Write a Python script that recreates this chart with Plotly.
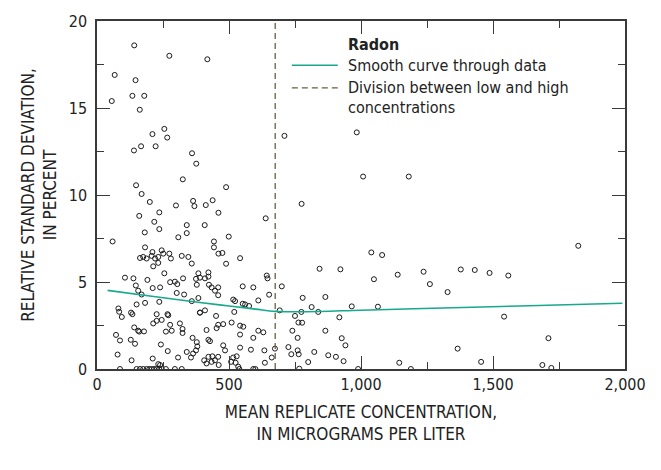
import plotly.graph_objects as go

# Replicate sample pairs: mean concentration (ug/L) and relative standard deviation (%)
conc = [
    141, 274, 418, 67, 146, 134, 179, 56, 162, 255, 210, 266, 710, 984,
    140, 167, 222, 360, 376, 1008, 1181, 325, 148, 169, 489, 200, 299, 364, 369,
    438, 412, 775, 236, 160, 460, 217, 639, 340, 408, 236, 340, 181, 308, 499,
    59, 443, 1823, 182, 443, 210, 245, 460, 475, 542, 1039, 1080,
    163, 175, 188, 207, 220, 232, 251, 274, 280, 321, 346, 359,
    213, 232, 255, 106, 138, 191, 277, 295, 304, 326, 375, 378,
    147, 156, 169, 182, 211, 239, 302, 330, 359, 390, 150, 236,
    81, 84, 94, 129, 134, 226, 267, 270, 245, 226, 213, 277, 314, 324, 283,
    324, 261, 178, 141, 160, 156,
    72, 87, 128, 144, 78, 131, 211, 242, 268, 307, 340, 356, 364, 375, 380, 378, 362,
    87, 150, 163, 175, 188, 198, 207, 216, 226, 236, 245, 261, 295, 321, 232, 239,
    489, 422, 384, 390, 409, 422, 643, 646, 700, 552, 592, 424, 434, 459, 447, 459,
    652, 611, 516, 523, 552, 561, 576, 384, 409, 390, 451, 520, 692, 750, 510, 478,
    459, 453, 415, 542, 554, 611, 630, 740, 542, 422, 428, 592, 478, 485, 542, 583,
    634, 674, 662, 636, 725, 736, 539, 592, 600,
    422, 437, 459, 406, 415, 434, 447, 461, 508, 516, 529, 525, 535,
    843, 922, 1049, 1139, 779, 865, 813, 965, 1064, 774, 838, 918, 763, 777, 865,
    760, 927, 941, 760, 764, 823, 876, 905, 934, 800, 1145, 766, 989, 1189,
    1237, 1261, 1378, 1431, 1487, 1558, 1328, 1542, 1710, 1366, 1455, 1687, 1721,
]
rsd = [
    18.6, 18.0, 17.8, 16.9, 16.6, 15.7, 15.7, 15.4, 14.9, 13.8, 13.5, 13.3, 13.4, 13.6,
    12.56, 12.8, 12.8, 12.4, 11.8, 11.06, 11.06, 10.9, 10.56, 10.06, 10.45, 9.6, 9.4, 9.66, 9.36,
    9.7, 9.42, 9.49, 9.0, 8.8, 8.98, 8.46, 8.66, 8.27, 8.27, 8.04, 7.81, 7.85, 7.57, 7.61,
    7.33, 7.33, 7.08, 6.99, 6.99, 6.72, 6.82, 6.63, 6.67, 6.37, 6.7, 6.55,
    6.38, 6.44, 6.35, 6.5, 6.35, 6.44, 6.63, 6.63, 6.35, 6.5, 6.44, 6.06,
    5.9, 6.1, 5.5, 5.25, 5.21, 5.12, 4.99, 5.02, 4.88, 5.21, 5.18, 4.84,
    4.8, 4.5, 4.28, 3.8, 4.65, 4.69, 4.37, 4.28, 3.9, 3.24, 3.71, 3.86,
    3.48, 3.29, 2.99, 3.24, 3.15, 3.15, 3.15, 3.09, 2.82, 2.77, 2.62, 2.54, 2.62, 2.3, 2.2,
    2.07, 2.15, 2.16, 2.39, 2.15, 2.2,
    1.96, 1.64, 1.68, 1.45, 0.83, 0.5, 0.6, 1.41, 1.03, 0.66, 0.98, 0.66, 0.89, 1.07, 1.3, 1.54, 1.79,
    0, 0, 0, 0, 0, 0, 0, 0, 0, 0, 0, 0, 0, 0, 0.28, 0.23,
    6.05, 5.55, 5.5, 5.25, 5.21, 5.31, 5.37, 5.21, 4.75, 4.75, 4.69, 4.84, 4.69, 4.69, 4.5, 4.24,
    4.27, 3.94, 3.99, 3.9, 3.75, 3.71, 3.62, 4.08, 3.37, 3.24, 3.05, 3.28, 3.37, 3.05, 2.67, 2.58,
    2.54, 2.35, 2.24, 2.49, 2.43, 2.2, 2.11, 2.2, 1.98, 1.68, 1.6, 1.79, 1.36, 1.07, 1.23, 1.11,
    1.07, 1.17, 0.66, 0.36, 1.26, 0.85, 0, 0, 0,
    0.7, 0.73, 0.7, 0.5, 0.32, 0.41, 0.5, 0.23, 0.41, 0.66, 0.73, 0.36, 0.13,
    5.76, 5.73, 5.16, 5.42, 4.09, 4.14, 3.56, 3.6, 3.58, 3.28, 3.28, 2.97, 2.67, 2.66, 2.2,
    1.79, 1.77, 1.36, 1.07, 0.85, 0.98, 0.79, 0.7, 0.45, 0.4, 0.36, 0.02, 0, 0,
    5.59, 4.88, 5.72, 5.69, 5.52, 5.37, 4.42, 3.01, 1.77, 1.17, 0.41, 0.23, 0.06,
]

# Smooth curve through the data
curve_x = [40, 200, 390, 500, 600, 675, 790, 1000, 1200, 1600, 1990]
curve_y = [4.52, 4.20, 3.82, 3.62, 3.44, 3.31, 3.29, 3.38, 3.46, 3.62, 3.78]

# Concentration dividing low and high samples
division = 675

FONT = "Liberation Sans Narrow, DejaVu Sans Condensed, Arial Narrow, sans-serif"
TEAL = "#17a98b"
OLIVE = "#6b5f3c"
FRAME = "#3a3a3a"
TEXT = "#222"

fig = go.Figure()
fig.add_trace(go.Scatter(
    x=conc, y=rsd, mode="markers",
    marker=dict(symbol="circle-open", size=5, color="#1a1a1a", line=dict(width=1)),
    showlegend=False, hoverinfo="x+y",
))
fig.add_trace(go.Scatter(
    x=curve_x, y=curve_y, mode="lines",
    line=dict(color=TEAL, width=1.6, shape="spline", smoothing=1.0),
    showlegend=False,
))
fig.add_trace(go.Scatter(
    x=[division, division], y=[0, 20], mode="lines",
    line=dict(color=OLIVE, width=1.3, dash="6px,4px"),
    showlegend=False,
))
# Invisible trace that carries the top and right tick axes
fig.add_trace(go.Scatter(
    x=[division], y=[0], xaxis="x2", yaxis="y2", mode="markers",
    marker=dict(opacity=0), showlegend=False, hoverinfo="skip",
))

tick_style = dict(
    ticks="inside", ticklen=13, tickwidth=1.3, tickcolor=FRAME,
    showgrid=False, zeroline=False,
    minor=dict(ticks="inside", ticklen=7, tickwidth=1.1, tickcolor=FRAME, showgrid=False),
)
frame_style = dict(showline=True, linecolor=FRAME, linewidth=1.5, mirror=True)

fig.update_layout(
    xaxis=dict(
        range=[0, 2000], dtick=500, tickformat=",d", minor_dtick=250,
        tickfont=dict(family=FONT, size=16, color=TEXT),
        title=dict(text="MEAN REPLICATE CONCENTRATION,<br>IN MICROGRAMS PER LITER",
                   font=dict(family=FONT, size=17, color=TEXT), standoff=13),
        **frame_style, **tick_style,
    ),
    yaxis=dict(
        range=[0, 20], dtick=5, minor_dtick=2.5,
        tickfont=dict(family=FONT, size=16, color=TEXT), ticklabelstandoff=5,
        title=dict(text="RELATIVE STANDARD DEVIATION,<br>IN PERCENT",
                   font=dict(family=FONT, size=17, color=TEXT), standoff=8),
        **frame_style, **tick_style,
    ),
    xaxis2=dict(range=[0, 2000], dtick=500, minor_dtick=250, overlaying="x", side="top",
                anchor="y", showticklabels=False, **tick_style),
    yaxis2=dict(range=[0, 20], dtick=5, minor_dtick=2.5, overlaying="y", side="right",
                anchor="x", showticklabels=False, **tick_style),
)

# Legend drawn inside the plot area
x0, x1, xt = 0.369, 0.456, 0.472
legend_shapes = [
    dict(type="line", xref="paper", yref="paper", x0=x0, x1=x1, y0=0.873, y1=0.873,
         line=dict(color=TEAL, width=1.6)),
    dict(type="line", xref="paper", yref="paper", x0=x0, x1=x1, y0=0.808, y1=0.808,
         line=dict(color=OLIVE, width=1.3, dash="6px,4px")),
]
legend_text = [
    ("<b>Radon</b>", 0.933),
    ("Smooth curve through data", 0.873),
    ("Division between low and high", 0.808),
    ("concentrations", 0.752),
]
annotations = [
    dict(text=t, x=xt, y=y, xref="paper", yref="paper", xanchor="left", yanchor="middle",
         showarrow=False, font=dict(family=FONT, size=16, color=TEXT))
    for t, y in legend_text
]

fig.update_layout(
    width=661, height=470,
    margin=dict(l=97, r=36, t=15, b=101),
    paper_bgcolor="white", plot_bgcolor="white",
    shapes=legend_shapes, annotations=annotations,
)

fig.write_html("out.html")
